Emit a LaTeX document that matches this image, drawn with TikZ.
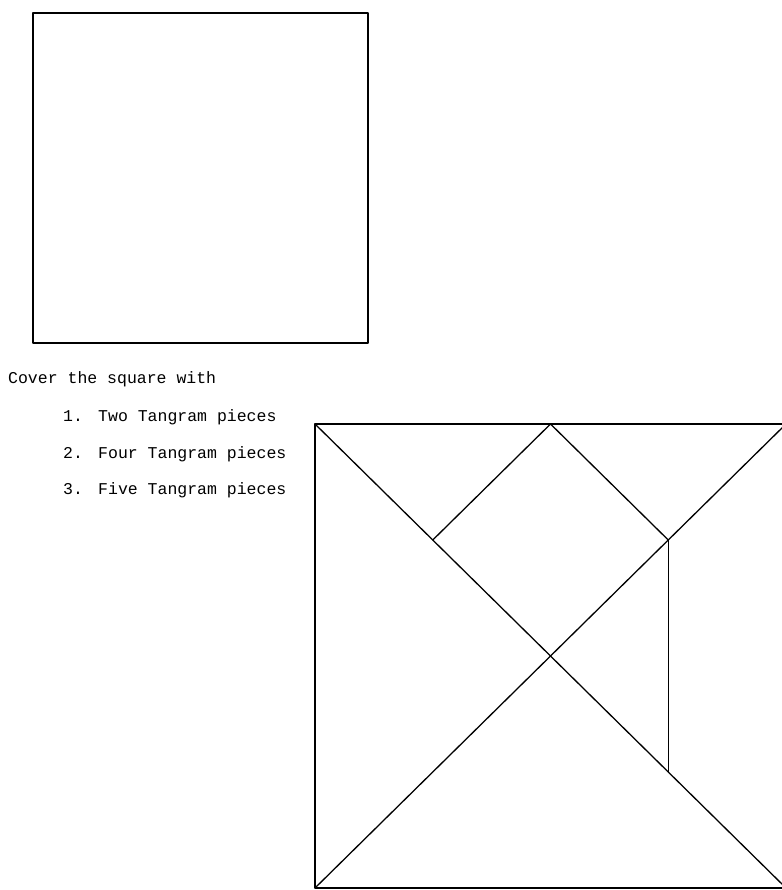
\documentclass[tikz,border=0pt]{standalone}
\usepackage{fontspec}
\setmonofont{Liberation Mono}
\usetikzlibrary{
    calc,        % For coordinate calculations
    positioning, % For relative placement
}

\begin{document}
\begin{tikzpicture}[
    x=1pt, y=-1pt, % pixel-like units, y downwards
    edge/.style={line width=1.3pt, line cap=round, line join=round}, % Style for all lines
    txt/.style={font=\ttfamily\fontsize{16.5}{20}\selectfont, inner sep=0pt, anchor=base west}, % Style for text
]
    \useasboundingbox (0,0) rectangle (781,890);

    % Empty square
    \draw[edge] (33,13) rectangle (368,343);

    % Instructions
    \node[txt] (cover) at (8,383) {Cover the square with};
    \foreach \n/\y/\what in {1/421/Two, 2/458/Four, 3/494/Five}{
        \node[txt] (num\n) at (63,\y) {\n.};
        \node[txt] (item\n) at (98,\y) {\what{} Tangram pieces};
    }

    % Tangram square corners (right edge runs off the page)
    \coordinate (TL) at (315,424);
    \coordinate (TR) at (786,424);
    \coordinate (BR) at (786,888);
    \coordinate (BL) at (315,888);

    % Inner points
    \coordinate (topmid) at ($(TL)!0.5!(TR)$);
    \coordinate (P) at ($(TL)!0.25!(BR)$);   % Left corner of small square
    \coordinate (Q) at ($(TR)!0.25!(BL)$);   % Right corner of small square
    \coordinate (R) at ($(TL)!0.75!(BR)$);   % Foot of vertical edge

    % Draw Tangram
    \draw[edge] (TL) -- (TR) -- (BR) -- (BL) -- cycle;
    \draw[edge] (TL) -- (BR);
    \draw[edge] (TR) -- (BL);
    \draw[edge] (P) -- (topmid) -- (Q);
    \draw[edge] (Q) -- (R);

\end{tikzpicture}
\end{document}
